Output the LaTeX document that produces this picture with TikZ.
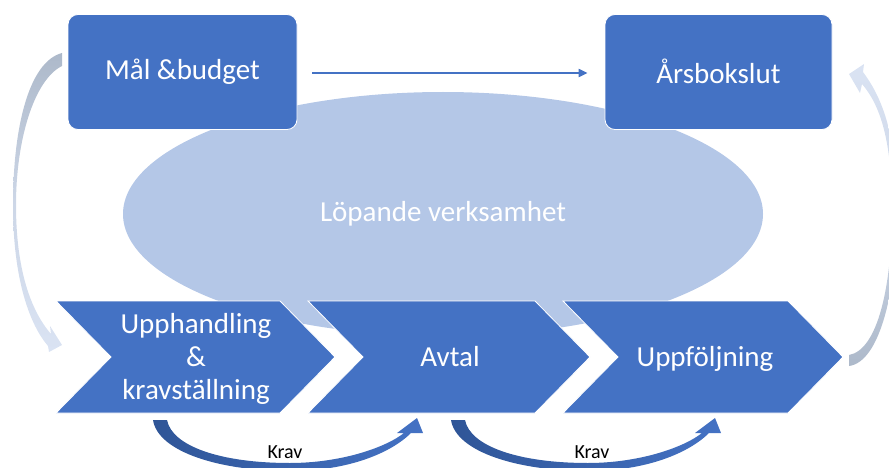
\documentclass[tikz,border=0pt]{standalone}
\usepackage{fontspec}
\setmainfont{Carlito}
\usetikzlibrary{shapes.geometric,arrows.meta}
\definecolor{pblue}{HTML}{4472C4}
\definecolor{plight}{HTML}{B4C7E7}
\definecolor{pgray}{HTML}{ADB9CA}
\definecolor{pfaint}{HTML}{DAE3F3}
\definecolor{pdark}{HTML}{2F5597}
\begin{document}
\begin{tikzpicture}[x=1pt,y=-1pt,
  box/.style={fill=pblue, draw=white, line width=0.8pt, rounded corners=10pt,
    text=white, font=\fontsize{29}{34}\selectfont, minimum width=229pt, minimum height=115pt, inner sep=0pt},
  chev/.style={fill=pblue, draw=white, line width=0.8pt},
  ctext/.style={text=white, font=\fontsize{29}{33}\selectfont, align=center, inner sep=0pt},
  kravtext/.style={text=black, font=\fontsize{20}{24}\selectfont, inner sep=0pt}]
\useasboundingbox (0,0) rectangle (889,468);
\clip (0,0) rectangle (889,468);
% ellipse
\node[ellipse, fill=plight, minimum width=640pt, minimum height=244pt, inner sep=0pt,
  text=white, font=\fontsize{29}{34}\selectfont] (lop) at (443,214) {Löpande verksamhet};
% top boxes
\node[box] (mal) at (182.5,72) {Mål \&budget};
\node[box, minimum width=227pt, text depth=0pt] (ars) at (718.5,72) {\raisebox{2pt}{Årsbokslut}};
\draw[pblue, line width=2pt, -{Triangle[length=9pt,width=8pt]}]
  ([xshift=15pt,yshift=-1pt]mal.east) -- ([xshift=-17pt,yshift=-1pt]ars.west);
% chevrons
\draw[chev] (56,301) -- (280,301) -- (335,357) -- (280,413) -- (56,413) -- (111,357) -- cycle;
\draw[chev] (308,301) -- (535,301) -- (590,357) -- (535,413) -- (308,413) -- (363,357) -- cycle;
\draw[chev] (563,301) -- (788,301) -- (843,357) -- (788,413) -- (563,413) -- (618,357) -- cycle;
\node[ctext] (c1) at (196,359) {Upphandling\\\&\\kravställning};
\node[ctext] (c2) at (450,357) {Avtal};
\node[ctext] (c3) at (705,359) {Uppföljning};
% left curved arrow
\shade[top color=pgray, bottom color=pfaint, middle color=pfaint!70!pgray]
  (62,53) .. controls (28,62) and (13,130) .. (13,205)
  .. controls (13,280) and (30,325) .. (48,346)
  -- (49,352) -- (62,345) -- (50,326) -- (51,334)
  .. controls (31,311) and (16,270) .. (16,205)
  .. controls (16,140) and (34,80) .. (62,66) -- cycle;
% right curved arrow
\shade[bottom color=pgray, top color=pfaint, middle color=pfaint!70!pgray]
  (849,366) .. controls (880,362) and (897,290) .. (897,210)
  .. controls (897,130) and (880,95) .. (863,72)
  -- (864,64) -- (849,74) -- (860,93) -- (862,84)
  .. controls (880,105) and (892,140) .. (892,210)
  .. controls (892,285) and (878,350) .. (849,355) -- cycle;
% bottom curved arrows
\foreach \dx in {0, 298}{
  \begin{scope}[xshift=\dx pt]
  \shade[left color=pdark, right color=pblue]
    (153,420) .. controls (158,452) and (220,471) .. (290,471)
    .. controls (350,471) and (392,452) .. (411,433)
    -- (423,433) -- (417,418) -- (397,433) -- (404,433)
    .. controls (385,448) and (340,463) .. (290,463)
    .. controls (220,463) and (172,446) .. (167,420) -- cycle;
  \end{scope}
}
\node[kravtext] (k1) at (285,452) {Krav};
\node[kravtext] (k2) at (592,452) {Krav};
\end{tikzpicture}
\end{document}
